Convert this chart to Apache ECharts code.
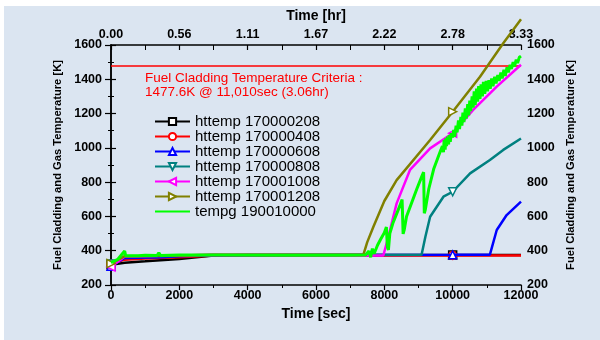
<!DOCTYPE html>
<html>
<head>
<meta charset="utf-8">
<script src="https://cdn.jsdelivr.net/npm/echarts@6/dist/echarts.min.js"></script>
<style>
html, body { margin: 0; padding: 0; background: #fff; }
#panel { position: absolute; left: 4px; top: 6px; width: 596px; height: 334px; background: #dbe5f1; }
#chart { position: absolute; left: 0; top: 0; width: 600px; height: 340px; }
</style>
</head>
<body>
<div id="panel"></div>
<div id="chart"></div>
<script>
// legend names, in drawing order
var seriesNames = ['httemp 170000208', 'httemp 170000408', 'httemp 170000608', 'httemp 170000808',
	'httemp 170001008', 'httemp 170001208', 'tempg 190010000'];
// top axis labels (hours) for 0, 2000 ... 12000 sec
var hrLabels = ['0.00', '0.56', '1.11', '1.67', '2.22', '2.78', '3.33'];
var criteria = 1477.6;
// times (sec) where a series shows its marker
var markTimes = [0, 10000];

// [time sec, temperature K]
var ht208 = [[0, 318], [400, 330], [1000, 338], [2000, 352], [3000, 372], [4000, 375], [10000, 375], [12000, 375]];
var ht408 = [[0, 322], [400, 348], [1000, 354], [2000, 362], [3000, 372], [10000, 372], [12000, 372]];
var ht608 = [[0, 310], [400, 358], [1500, 362], [2000, 368], [3000, 374], [10000, 376], [11090, 377],
	[11290, 521], [11580, 608], [12000, 686]];
var ht808 = [[0, 322], [400, 365], [2000, 371], [3000, 375], [9090, 376], [9200, 480], [9340, 598],
	[9730, 715], [10000, 744], [10510, 851], [11090, 929], [11480, 988], [12000, 1055]];
var ht1008 = [[0, 305], [400, 366], [2000, 372], [3000, 376], [7600, 372], [7970, 372], [8120, 482],
	[8360, 676], [8750, 871], [9340, 997], [10000, 1085], [10600, 1221], [11290, 1357], [12000, 1485]];
var ht1208 = [[0, 325], [400, 368], [2000, 372], [3000, 376], [7390, 378], [7500, 450], [7680, 540],
	[8000, 690], [8360, 812], [9340, 1046], [10000, 1211], [10800, 1415], [11480, 1610], [12000, 1750]];
var tempg = [[0, 330], [200, 350], [400, 398], [430, 370], [800, 370], [1000, 374], [1350, 372],
	[1400, 388], [1450, 372], [2000, 375], [3000, 375], [5000, 374], [7000, 373], [7450, 375],
	[7550, 398], [7600, 362], [7650, 412], [7700, 382], [7800, 432], [7900, 470], [8000, 505],
	[8060, 538], [8090, 420], [8120, 405], [8160, 500], [8250, 560], [8350, 610], [8450, 660],
	[8520, 698], [8550, 498], [8580, 520], [8650, 600], [8800, 680], [8950, 760], [9100, 835],
	[9150, 858], [9170, 618], [9200, 640], [9300, 760], [9450, 880], [9600, 960], [9650, 985],
	[9700, 1010], [9730, 975], [9750, 1045], [9780, 990], [9800, 1055], [9820, 1010], [9850, 1065],
	[9880, 1020], [9900, 1075], [9930, 1035], [9960, 1085], [10000, 1060], [10030, 1105],
	[10060, 1065], [10100, 1130], [10130, 1090], [10170, 1160], [10200, 1110], [10240, 1180],
	[10270, 1130], [10300, 1205], [10330, 1150], [10370, 1230], [10400, 1170], [10440, 1255],
	[10470, 1190], [10500, 1275], [10530, 1215], [10570, 1300], [10600, 1235], [10630, 1330],
	[10660, 1250], [10700, 1345], [10730, 1270], [10760, 1360], [10800, 1285], [10830, 1370],
	[10870, 1300], [10900, 1385], [10940, 1315], [10980, 1390], [11020, 1330], [11060, 1395],
	[11100, 1345], [11140, 1405], [11180, 1360], [11230, 1415], [11270, 1375], [11320, 1425],
	[11360, 1390], [11410, 1440], [11450, 1405], [11500, 1455], [11540, 1420], [11590, 1470],
	[11630, 1440], [11680, 1485], [11720, 1460], [11770, 1500], [11810, 1475], [11860, 1515],
	[11900, 1495], [11950, 1528], [12000, 1535]];

var seriesData = [ht208, ht408, ht608, ht808, ht1008, ht1208, tempg];
var colors = ['#000000', '#ff0000', '#0000ff', '#008080', '#ff00ff', '#808000', '#00ff00'];
var symbols = ['rect', 'circle', 'triangle', 'triangle', 'triangle', 'triangle', 'none'];
var rotates = [0, 0, 0, 180, 90, -90, 0];

var FONT = 'Liberation Sans';

function withMarks(pts, sym) {
	return pts.map(function (p) {
		if (sym !== 'none' && markTimes.indexOf(p[0]) >= 0) return { value: p };
		return { value: p, symbol: 'none' };
	});
}

var series = seriesData.map(function (pts, i) {
	var s = {
		name: seriesNames[i],
		type: 'line',
		data: withMarks(pts, symbols[i]),
		symbol: symbols[i],
		symbolSize: 8,
		symbolRotate: rotates[i],
		showSymbol: symbols[i] !== 'none',
		lineStyle: { color: colors[i], width: i === 6 ? 3 : 2.5 },
		itemStyle: { color: '#ffffff', borderColor: colors[i], borderWidth: 1.5 },
		clip: i !== 5,
		z: 2 + i
	};
	if (i === 0) {
		s.markLine = {
			silent: true,
			symbol: 'none',
			label: { show: false },
			lineStyle: { color: '#ff0000', width: 1.5, type: 'solid' },
			data: [{ yAxis: criteria }]
		};
	}
	return s;
});

var legendData = seriesNames.map(function (n, i) {
	if (symbols[i] === 'none') return { name: n, itemStyle: { opacity: 0 } };
	return { name: n };
});

var plain = function (v) { return String(v); };
var tickLabel = { fontFamily: FONT, fontSize: 12.5, fontWeight: 'bold', color: '#000' };
var axisLine = { show: true, lineStyle: { color: '#000', width: 1.5 } };

var chart = echarts.init(document.getElementById('chart'));
chart.setOption({
	animation: false,
	backgroundColor: 'transparent',
	grid: { left: 111, right: 79, top: 45, bottom: 55 },
	legend: {
		orient: 'vertical',
		left: 149,
		top: 109,
		itemWidth: 35,
		itemHeight: 9,
		itemGap: 0,
		data: legendData,
		textStyle: { fontFamily: FONT, fontSize: 15, color: '#000', lineHeight: 15 }
	},
	graphic: [{
		type: 'text',
		left: 145,
		top: 71,
		style: {
			text: 'Fuel Cladding Temperature Criteria :\n1477.6K @ 11,010sec (3.06hr)',
			fill: '#ff0000',
			font: '13.5px "Liberation Sans"',
			lineHeight: 14
		}
	}],
	xAxis: [{
		type: 'value', position: 'bottom', min: 0, max: 12000, interval: 2000,
		name: 'Time [sec]', nameLocation: 'middle', nameGap: 22,
		nameTextStyle: { fontFamily: FONT, fontSize: 14, fontWeight: 'bold', color: '#000' },
		axisLine: axisLine,
		axisTick: { show: true, length: 5, lineStyle: { color: '#000', width: 1.2 } },
		minorTick: { show: true, splitNumber: 2, length: 3, lineStyle: { color: '#000', width: 1 } },
		axisLabel: Object.assign({ margin: 4, formatter: plain }, tickLabel),
		splitLine: { show: false }
	}, {
		type: 'value', position: 'top', min: 0, max: 12000, interval: 2000,
		name: 'Time [hr]', nameLocation: 'middle', nameGap: 18,
		nameTextStyle: { fontFamily: FONT, fontSize: 14, fontWeight: 'bold', color: '#000' },
		axisLine: axisLine,
		axisTick: { show: true, inside: true, length: 5, lineStyle: { color: '#000', width: 1.2 } },
		minorTick: { show: true, splitNumber: 2, length: 5, lineStyle: { color: '#000', width: 1 } },
		axisLabel: Object.assign({
			margin: 4,
			formatter: function (v) { return hrLabels[Math.round(v / 2000)]; }
		}, tickLabel),
		splitLine: { show: false }
	}],
	yAxis: [{
		type: 'value', position: 'left', min: 200, max: 1600, interval: 200,
		name: 'Fuel Cladding and Gas Temperature [K]', nameLocation: 'middle', nameGap: 42, nameRotate: 90,
		nameTextStyle: { fontFamily: FONT, fontSize: 11.2, fontWeight: 'bold', color: '#000' },
		axisLine: axisLine,
		axisTick: { show: true, length: 6, lineStyle: { color: '#000', width: 1.2 } },
		minorTick: { show: true, splitNumber: 2, length: 3, lineStyle: { color: '#000', width: 1 } },
		axisLabel: Object.assign({ margin: 9, formatter: plain }, tickLabel),
		splitLine: { show: false }
	}, {
		type: 'value', position: 'right', min: 200, max: 1600, interval: 200,
		name: 'Fuel Cladding and Gas Temperature [K]', nameLocation: 'middle', nameGap: 40, nameRotate: 90,
		nameTextStyle: { fontFamily: FONT, fontSize: 11.2, fontWeight: 'bold', color: '#000' },
		axisLine: axisLine,
		axisTick: { show: true, length: 5, lineStyle: { color: '#000', width: 1.2 } },
		minorTick: { show: true, splitNumber: 2, length: 3, lineStyle: { color: '#000', width: 1 } },
		axisLabel: Object.assign({ margin: 6, formatter: plain }, tickLabel),
		splitLine: { show: false }
	}],
	series: series
});
</script>
</body>
</html>
